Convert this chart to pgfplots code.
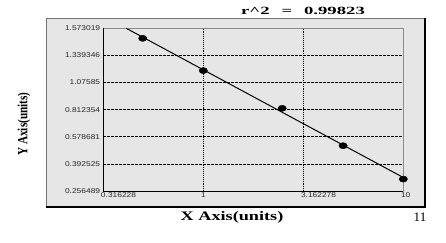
\documentclass[border=0pt]{standalone}
\usepackage{pgfplots}
\pgfplotsset{compat=1.18}
\usepackage{fontspec}
\setmainfont{Liberation Serif}
\newfontfamily\tickfont[FakeStretch=1.2]{Liberation Sans}
\usepackage{graphicx}
\definecolor{panel}{HTML}{E6E6E6}
\begin{document}
\begin{tikzpicture}
\path[use as bounding box] (-103.3pt,-51pt) rectangle (342.7pt,191pt);
\fill[panel] (-57.3pt,-16pt) rectangle (321.7pt,173pt);
\draw[black!55, line width=0.6pt] (-57.3pt,-16pt) -- (-57.3pt,173pt) -- (321.7pt,173pt);
\draw[black, line width=1.6pt] (-57.3pt,-16pt) -- (321.7pt,-16pt) -- (321.7pt,173pt);
\begin{axis}[
  scale only axis, width=300pt, height=162.7pt,
  xmode=log, xmin=0.316228, xmax=10, ymin=0, ymax=6,
  xtick={0.316228,1,3.162278,10},
  xticklabels={0.316228,1,3.162278,10},
  ytick={0,1,2,3,4,5,6},
  yticklabels={0.256489,0.392525,0.578681,0.812354,1.07585,1.339346,1.573019},
  major tick length=0pt, minor tick num=0,
  xmajorgrids, ymajorgrids,
  x grid style={black, line width=0.9pt, densely dotted},
  y grid style={black, line width=0.6pt, dash pattern=on 2.5pt off 1.5pt},
  axis line style={draw=black!45, line width=0.6pt},
  yticklabel style={font=\tickfont\fontsize{7}{7}\selectfont, text=black!85, anchor=east, inner sep=0pt, xshift=-3pt},
  xticklabel style={font=\tickfont\fontsize{7}{7}\selectfont, text=black!85, anchor=north west, inner sep=0pt, xshift=-2.5pt, yshift=-1.5pt},
  clip=false,
]
\draw[black, line width=0.7pt] (rel axis cs:0,1) -- (rel axis cs:0,0) -- (rel axis cs:1,0);
\addplot[black, line width=1pt] coordinates {(0.412,6) (10,0.498)};
\addplot[only marks, mark=*, mark size=3.1pt, mark options={xscale=1.35, fill=black, draw=black}] coordinates {(0.498,5.63) (1,4.44) (2.48,3.05) (5.0,1.67) (10,0.44)};
\end{axis}
\node[font=\fontsize{11}{13}\selectfont\bfseries] at (199.7pt,180pt) {\scalebox{1.7}[1]{r\textasciicircum 2\hspace{7pt}=\hspace{7pt}0.99823}};
\node[font=\fontsize{13}{15}\selectfont\bfseries] at (128.7pt,-26pt) {\scalebox{1.4}[1]{X Axis(units)}};
\node[font=\fontsize{13}{15}\selectfont] at (316.7pt,-26pt) {11};
\node[font=\fontsize{14}{16}\selectfont\bfseries, rotate=90] at (-79.3pt,67pt) {\scalebox{0.8}[1]{Y Axis(units)}};
\end{tikzpicture}
\end{document}
